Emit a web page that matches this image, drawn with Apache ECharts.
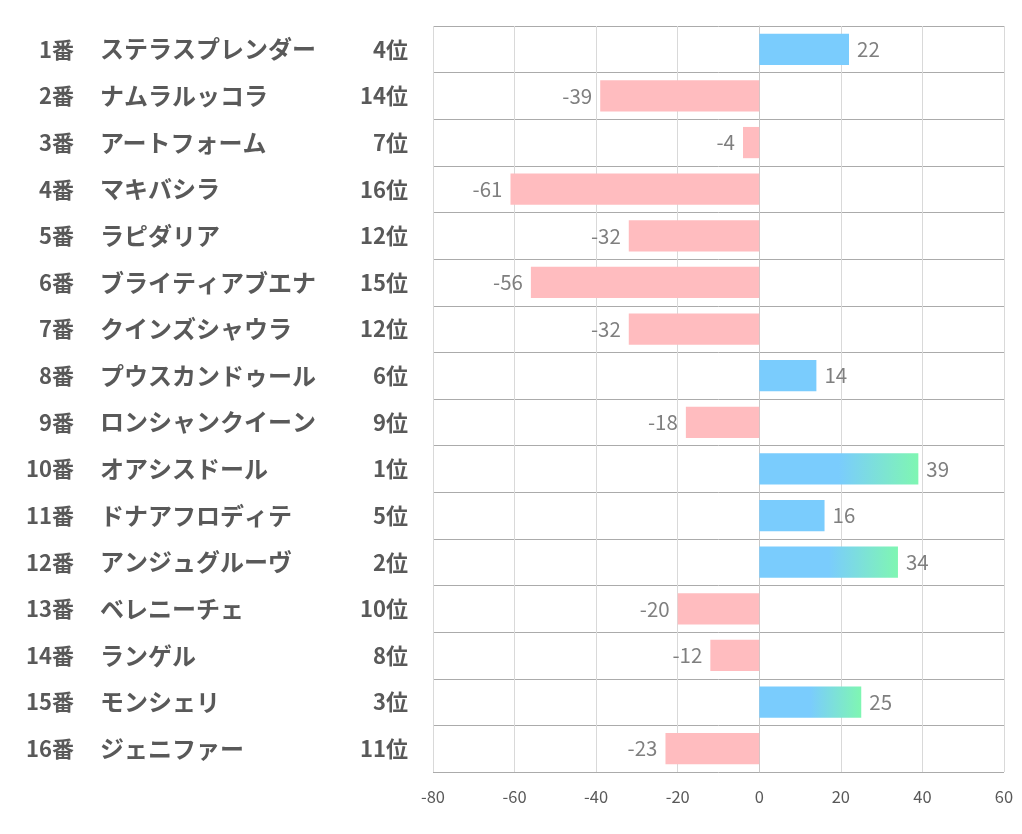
<!DOCTYPE html>
<html><head><meta charset="utf-8">
<script src="https://cdn.jsdelivr.net/npm/echarts@6/dist/echarts.min.js"></script>
<style>html,body{margin:0;padding:0;background:#fff}#c{width:1022px;height:834px}</style>
</head><body><div id="c"></div>
<script>
const nums = ['1番','2番','3番','4番','5番','6番','7番','8番','9番','10番','11番','12番','13番','14番','15番','16番'];
const names = ['ステラスプレンダー','ナムラルッコラ','アートフォーム','マキバシラ','ラピダリア','ブライティアブエナ','クインズシャウラ','プウスカンドゥール','ロンシャンクイーン','オアシスドール','ドナアフロディテ','アンジュグルーヴ','ベレニーチェ','ランゲル','モンシェリ','ジェニファー'];
const ranks = ['4位','14位','7位','16位','12位','15位','12位','6位','9位','1位','5位','2位','10位','8位','3位','11位'];
const values = [22,-39,-4,-61,-32,-56,-32,14,-18,39,16,34,-20,-12,25,-23];
const xTicks = [-80,-60,-40,-20,0,20,40,60];

const BLUE = '#7accfd', PINK = '#ffbcbf', GREEN = '#7ff6b2';
const data = values.map((v,i)=>{
  let color = v >= 0 ? BLUE : PINK;
  const r = parseInt(ranks[i]);
  if (v >= 0 && r <= 3) {
    color = new echarts.graphic.LinearGradient(0,0,1,0,[{offset:0,color:BLUE},{offset:0.5,color:BLUE},{offset:1,color:GREEN}]);
  }
  return {value:v, itemStyle:{color}, label:{position: v>=0?'right':'left'}};
});

const GL = 433;
const labelFont = {fontWeight:'bold',color:'#595959',fontFamily:'Noto Sans CJK JP'};
function catAxis(cats, main, margin, align, size){
  return {type:'category',data:cats,inverse:true,position:'left',
    axisLine:{show:main,lineStyle:{color:'#c8c8c8'}},axisTick:{show:false},
    splitLine:{show:main,lineStyle:{color:'#ababab',width:1}},
    axisLabel:Object.assign({margin:margin,align:align,fontSize:size},labelFont)};
}

const chart = echarts.init(document.getElementById('c'));
chart.setOption({
  animation:false,
  grid:{left:GL,right:18,top:26,bottom:62},
  xAxis:{type:'value',min:xTicks[0],max:xTicks[xTicks.length-1],interval:20,
    axisLine:{show:false},axisTick:{show:false},
    splitLine:{show:true,lineStyle:{color:'#d9d9d9',width:1}},
    axisLabel:{color:'#595959',fontSize:16.5,margin:16,fontFamily:'Noto Sans CJK JP'}},
  yAxis:[
    catAxis(ranks, true, GL-408, 'right', 22),
    catAxis(names, false, GL-100, 'left', 24),
    catAxis(nums, false, GL-74, 'right', 22)
  ],
  series:[{type:'bar',yAxisIndex:0,data:data,barCategoryGap:'33%',
    label:{show:true,distance:8,color:'#7f7f7f',fontSize:20.5,fontFamily:'Noto Sans CJK JP'}}]
});
</script></body></html>
